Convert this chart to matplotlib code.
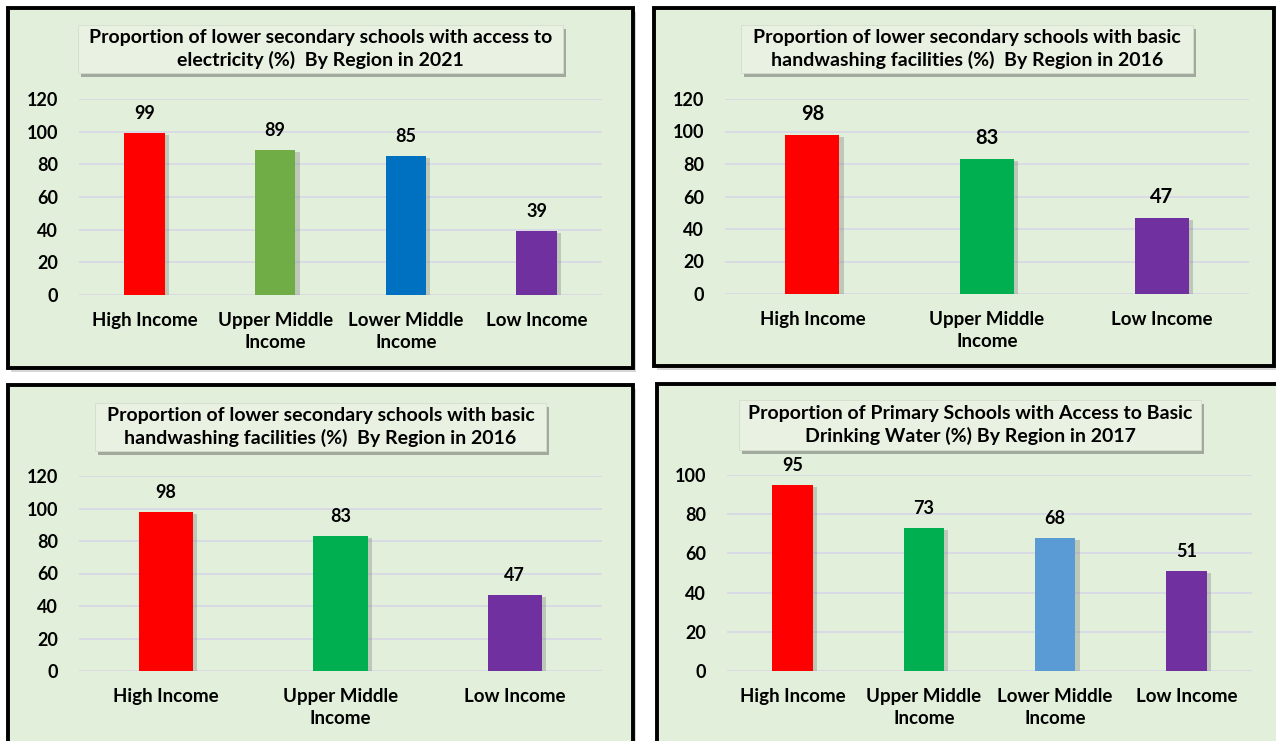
import matplotlib
matplotlib.use("Agg")
import matplotlib.pyplot as plt
import matplotlib.patheffects as pe
from matplotlib.patches import Rectangle, FancyBboxPatch

plt.rcParams['font.family'] = ['Lato', 'DejaVu Sans']
plt.rcParams['font.weight'] = 'bold'

## Data for the four panels
elec_categories = ['High Income', 'Upper Middle\nIncome', 'Lower Middle\nIncome', 'Low Income']
elec_values = [99, 89, 85, 39]
elec_colors = ['#FF0000', '#70AD47', '#0070C0', '#7030A0']
elec_title = 'Proportion of lower secondary schools with access to\nelectricity (%)  By Region in 2021'

hand_categories = ['High Income', 'Upper Middle\nIncome', 'Low Income']
hand_values = [98, 83, 47]
hand_colors = ['#FF0000', '#00B050', '#7030A0']
hand_title = 'Proportion of lower secondary schools with basic\nhandwashing facilities (%)  By Region in 2016'

water_categories = ['High Income', 'Upper Middle\nIncome', 'Lower Middle\nIncome', 'Low Income']
water_values = [95, 73, 68, 51]
water_colors = ['#FF0000', '#00B050', '#5B9BD5', '#7030A0']
water_title = 'Proportion of Primary Schools with Access to Basic\nDrinking Water (%) By Region in 2017'

W, H = 1276, 741
BG = '#E2EFDA'

fig = plt.figure(figsize=(W / 100, H / 100), dpi=100)
fig.patch.set_facecolor('white')


def rect(l, t, r, b):
    # pixel box -> figure fraction [x, y, w, h]
    return [l / W, 1 - b / H, (r - l) / W, (b - t) / H]


def panel(frame, axbox, tbox, title, cats, vals, colors, ymax, lab_size):
    x, y, w, h = rect(*frame)
    fr = Rectangle((x, y), w, h, transform=fig.transFigure, facecolor=BG,
                   edgecolor='black', linewidth=2.8, zorder=0)
    fr.set_path_effects([pe.SimplePatchShadow(offset=(2, -3), shadow_rgbFace='#999999', alpha=0.4),
                         pe.Normal()])
    fig.add_artist(fr)

    tx, ty, tw, th = rect(*tbox)
    tb = FancyBboxPatch((tx, ty), tw, th, boxstyle='square,pad=0', transform=fig.transFigure,
                        facecolor='#E9F1E2', edgecolor='#D5DDCD', linewidth=0.6, zorder=1)
    tb.set_path_effects([pe.SimplePatchShadow(offset=(2, -3), shadow_rgbFace='#555555', alpha=0.45),
                         pe.Normal()])
    fig.add_artist(tb)
    fig.text(tx + tw / 2, ty + th / 2, title, ha='center', va='center', fontsize=14,
             fontweight='bold', linespacing=1.35, zorder=2)

    ax = fig.add_axes(rect(*axbox))
    ax.set_facecolor('none')
    xs = range(len(cats))
    bars = ax.bar(xs, vals, width=0.31, color=colors, zorder=3)
    for b in bars:
        b.set_path_effects([pe.SimplePatchShadow(offset=(3, -1.5), shadow_rgbFace='#555555', alpha=0.25),
                            pe.Normal()])
    for xi, v in zip(xs, vals):
        ax.annotate(str(v), (xi, v), xytext=(0, 8), textcoords='offset points',
                    ha='center', va='bottom', fontsize=lab_size, fontweight='bold')
    ax.set_xlim(-0.5, len(cats) - 0.5)
    ax.set_ylim(0, ymax)
    ax.set_yticks(range(0, ymax + 1, 20))
    ax.yaxis.grid(True, color='#D9D9E6', linewidth=1.3, zorder=0)
    ax.set_axisbelow(True)
    ax.set_xticks(list(xs))
    ax.set_xticklabels(cats, fontsize=13.5, fontweight='bold', linespacing=1.4)
    ax.tick_params(axis='both', length=0)
    ax.tick_params(axis='y', pad=15, labelsize=13)
    ax.tick_params(axis='x', pad=12)
    for s in ax.spines.values():
        s.set_visible(False)
    return ax


panel((8, 8, 633, 368), (79, 99, 602, 295), (78, 25, 563, 73),
      elec_title, elec_categories, elec_values, elec_colors, 120, 13)
panel((654, 8, 1274, 366), (725, 99, 1249, 294), (741, 25, 1193, 73),
      hand_title, hand_categories, hand_values, hand_colors, 120, 14.5)
panel((8, 385, 633, 760), (79, 476, 602, 671), (95, 403, 546, 451),
      hand_title, hand_categories, hand_values, hand_colors, 120, 13)
panel((657, 384, 1290, 760), (727, 475, 1252, 671), (739, 400, 1201, 450),
      water_title, water_categories, water_values, water_colors, 100, 13)

fig.savefig('out.png', dpi=100, facecolor='white')
